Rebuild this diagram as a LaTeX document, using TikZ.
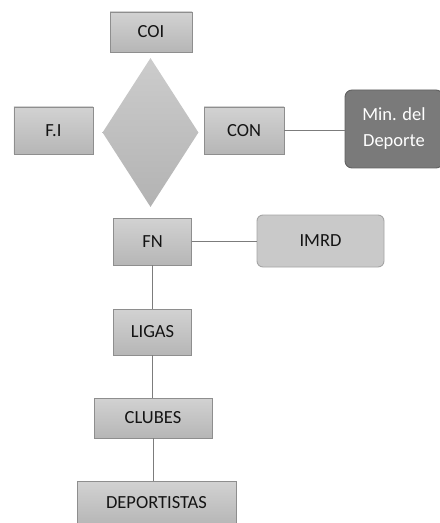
\documentclass[tikz,border=0pt]{standalone}
\usepackage{fontspec}
\setmainfont{Carlito}
\usepackage{xcolor}
\usetikzlibrary{shapes.geometric,shadings}
\definecolor{boxtop}{HTML}{D2D2D2}
\definecolor{boxbot}{HTML}{B6B6B6}
\definecolor{boxline}{HTML}{8E8E8E}
\definecolor{linkgray}{HTML}{7C7C7C}
\definecolor{mingray}{HTML}{7A7A7A}

\begin{document}
\begin{tikzpicture}[x=1bp,y=-1bp,
		every node/.style={font=\fontsize{18.5bp}{26bp}\selectfont, text=black!92, inner sep=0pt},
		org/.style={rectangle, draw=boxline, line width=0.9bp, top color=boxtop, bottom color=boxbot},
		soft/.style={rectangle, rounded corners=6bp, draw=boxline!80, line width=0.9bp, fill=black!21},
		dark/.style={rectangle, rounded corners=7bp, draw=black!62, line width=0.9bp, fill=mingray, text=white, align=center},
		link/.style={draw=linkgray, line width=0.9bp}]
		\useasboundingbox (0,0) rectangle (440,523);
		\node [shape=diamond, top color=black!20, bottom color=black!30, minimum width=96bp, minimum height=149bp] (rombo) at (150.5,132.5) {};
		\node [org, minimum width=82bp, minimum height=40bp] (coi) at (151,32) {COI};
		\node [org, minimum width=79bp, minimum height=47bp] (fi) at (53.5,130.5) {F.I};
		\node [org, minimum width=80bp, minimum height=47bp] (con) at (244,130.5) {CON};
		\node [dark, minimum width=98bp, minimum height=78bp] (min) at (394,129) {Min. del\\Deporte};
		\node [org, minimum width=78bp, minimum height=47bp] (fn) at (152.5,241.5) {FN};
		\node [soft, minimum width=127bp, minimum height=52bp] (imrd) at (320.5,241) {IMRD};
		\node [org, minimum width=78bp, minimum height=46bp] (ligas) at (152.5,332) {LIGAS};
		\node [org, minimum width=118bp, minimum height=40bp] (clubes) at (153,418) {CLUBES};
		\node [org, minimum width=159bp, minimum height=44bp] (deport) at (156.5,503) {DEPORTISTAS};
		\draw [link] (con.east) -- (min.west |- con.east);
		\draw [link] (fn.east) -- (imrd.west |- fn.east);
		\draw [link] (fn.south) -- (ligas.north);
		\draw [link] (ligas.south) -- (clubes.north -| ligas.south);
		\draw [link] (clubes.south) -- (deport.north -| clubes.south);
	\end{tikzpicture}
\end{document}
